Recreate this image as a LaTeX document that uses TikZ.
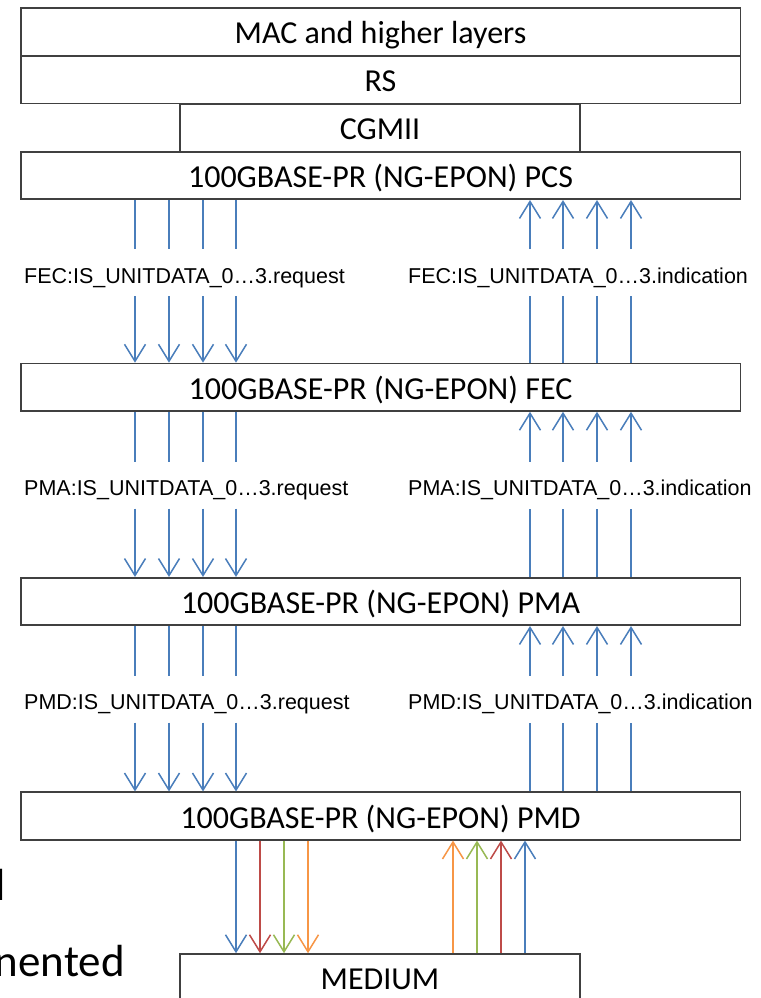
\documentclass[tikz,border=0pt]{standalone}
\usepackage{fontspec}
\setmainfont{Carlito}
\newfontfamily\arialf{Liberation Sans}
\usetikzlibrary{arrows.meta,calc}
\definecolor{ablue}{HTML}{4A7EBB}
\definecolor{ared}{HTML}{BE4B48}
\definecolor{agreen}{HTML}{98B954}
\definecolor{aorange}{HTML}{F79646}
\begin{document}
\begin{tikzpicture}[x=1pt,y=-1pt,
  layerbox/.style={draw=black!75, line width=1.6pt, minimum height=47.5pt, minimum width=719.6pt,
    inner sep=0pt, text height=25pt, text depth=1pt, font=\fontsize{32}{32}\selectfont},
  lbl/.style={font=\arialf\fontsize{21.5}{21.5}\selectfont, inner sep=0pt, anchor=base west},
  sig/.style={line width=1.5pt, draw=ablue},
  arrowed/.style={-{Straight Barb[length=17pt,width=21pt]}},
  bigtext/.style={font=\fontsize{45}{45}\selectfont, inner sep=0pt}
]
\useasboundingbox (0,0) rectangle (760,998);
\clip (0,0) rectangle (760,998);
\fill[white] (0,0) rectangle (760,998);

\node[layerbox] (mac) at (380.5,31.85) {MAC and higher layers};
\node[layerbox] (rs) at (380.5,79.85) {RS};
\node[layerbox, minimum width=400pt, minimum height=47.8pt] (cgmii) at (380,127.6) {CGMII};
\node[layerbox] (pcs) at (380.5,175.5) {100GBASE-PR (NG-EPON) PCS};
\node[layerbox] (fec) at (380.5,387.25) {100GBASE-PR (NG-EPON) FEC};
\node[layerbox] (pma) at (380.5,601.5) {100GBASE-PR (NG-EPON) PMA};
\node[layerbox] (pmd) at (380.5,816) {100GBASE-PR (NG-EPON) PMD};
\node[layerbox, minimum width=400pt, minimum height=48pt, text height=23pt] (medium) at (380,978) {MEDIUM};

\node[lbl] (fecreq) at (24,283) {FEC:IS\_UNITDATA\_0…3.request};
\node[lbl] (fecind) at (408,283) {FEC:IS\_UNITDATA\_0…3.indication};
\node[lbl] (pmareq) at (24,495.5) {PMA:IS\_UNITDATA\_0…3.request};
\node[lbl] (pmaind) at (408,495.5) {PMA:IS\_UNITDATA\_0…3.indication};
\node[lbl] (pmdreq) at (24,709.5) {PMD:IS\_UNITDATA\_0…3.request};
\node[lbl] (pmdind) at (408,709.5) {PMD:IS\_UNITDATA\_0…3.indication};

\foreach \up/\lo/\lr/\li in {pcs/fec/fecreq/fecind, fec/pma/pmareq/pmaind, pma/pmd/pmdreq/pmdind} {
  \foreach \x in {135,169,203,236} {
    \draw[sig] (\x,0 |- \up.south) -- ($(\x,0 |- \lr.base)+(0,-34)$);
    \draw[sig,arrowed] ($(\x,0 |- \lr.base)+(0,13)$) -- (\x,0 |- \lo.north);
  }
  \foreach \x in {530,563,597,631} {
    \draw[sig,arrowed] ($(\x,0 |- \li.base)+(0,-34)$) -- (\x,0 |- \up.south);
    \draw[sig] (\x,0 |- \lo.north) -- ($(\x,0 |- \li.base)+(0,13)$);
  }
}

\foreach \x/\c in {236/ablue,260/ared,284/agreen,308/aorange} {
  \draw[sig,arrowed,draw=\c] (\x,0 |- pmd.south) -- (\x,0 |- medium.north);
}
\foreach \x/\c in {453/aorange,477/agreen,501/ared,525/ablue} {
  \draw[sig,arrowed,draw=\c] (\x,0 |- medium.north) -- (\x,0 |- pmd.south);
}

\node[bigtext, anchor=base west] (frag) at (-5,900) {l};
\node[bigtext, anchor=base east] (nented) at (125,976.7) {nented};
\end{tikzpicture}
\end{document}
